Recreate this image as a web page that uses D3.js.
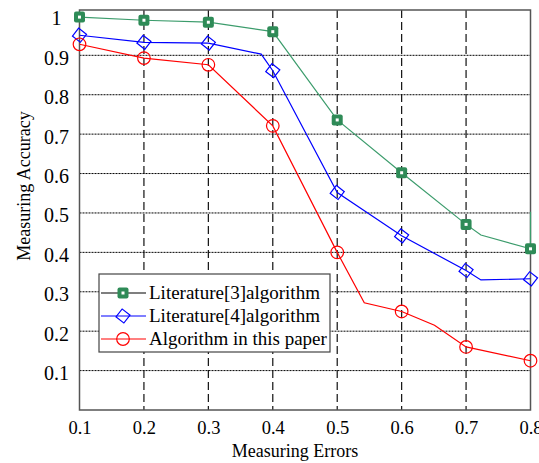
<!DOCTYPE html>
<html>
<head>
<meta charset="utf-8">
<script src="https://cdn.jsdelivr.net/npm/d3@7"></script>
<style>
  body {
    margin: 0;
    background: #fff;
  }

  svg {
    display: block;
    font-family: "Liberation Serif", "DejaVu Serif", serif;
  }

  .axis path {
    display: none;
  }
</style>
</head>
<body>
<svg id="chart" width="539" height="463"></svg>
<script>
//

const xTicks = [0.1, 0.2, 0.3, 0.4, 0.5, 0.6, 0.7, 0.8]
const yTicks = [0.1, 0.2, 0.3, 0.4, 0.5, 0.6, 0.7, 0.8, 0.9, 1]

const lit3X = [0.1, 0.2, 0.3, 0.4, 0.5, 0.6, 0.7, 0.723, 0.8, 0.8]
const lit3Y = [0.997, 0.989, 0.984, 0.960, 0.736, 0.602, 0.471, 0.444, 0.409, 0.503]

const lit4X = [0.1, 0.2, 0.3, 0.382, 0.4, 0.5, 0.6, 0.7, 0.723, 0.8]
const lit4Y = [0.951, 0.933, 0.931, 0.903, 0.861, 0.552, 0.442, 0.354, 0.330, 0.333]

const oursX = [0.1, 0.2, 0.3, 0.4, 0.5, 0.542, 0.6, 0.651, 0.7, 0.8]
const oursY = [0.928, 0.893, 0.876, 0.721, 0.400, 0.272, 0.250, 0.215, 0.160, 0.125]

const seriesNames = ['Literature[3]algorithm', 'Literature[4]algorithm', 'Algorithm in this paper']

//

const margin = { top: 10, right: 8.5, bottom: 53, left: 79.5 }
const svg = d3.select('#chart')
const width = +svg.attr('width') - margin.left - margin.right
const height = +svg.attr('height') - margin.top - margin.bottom
const serif = '"Liberation Serif", "Times New Roman", serif'

const x = d3.scaleLinear()
  .domain([0.1, 0.8])
  .range([0, width])

const y = d3.scaleLinear()
  .domain([0, 1.015])
  .range([height, 0])

const series = [
  { name: seriesNames[0], xs: lit3X, ys: lit3Y, line: '#3c9c6c', marker: 'square' },
  { name: seriesNames[1], xs: lit4X, ys: lit4Y, line: '#0000ff', marker: 'diamond' },
  { name: seriesNames[2], xs: oursX, ys: oursY, line: '#ff0000', marker: 'circle' }
]

const g = svg.append('g')
    .attr('transform', `translate(${margin.left},${margin.top})`)

// grid
g.append('g')
  .selectAll('line')
  .data(yTicks.filter((v) => v < 1))
  .enter()
  .append('line')
    .attr('x1', 0)
    .attr('x2', width)
    .attr('y1', (d) => y(d))
    .attr('y2', (d) => y(d))
    .attr('stroke', '#000')
    .attr('stroke-width', 1)
    .attr('stroke-dasharray', '2,1')

g.append('g')
  .selectAll('line')
  .data(xTicks.slice(1, -1))
  .enter()
  .append('line')
    .attr('x1', (d) => x(d))
    .attr('x2', (d) => x(d))
    .attr('y1', 0)
    .attr('y2', height)
    .attr('stroke', '#111')
    .attr('stroke-width', 1.2)
    .attr('stroke-dasharray', '8,4')

// axes
const xAxis = d3.axisBottom(x)
  .tickValues(xTicks)
  .tickSize(0)
  .tickPadding(11)
  .tickFormat(d3.format('.1f'))

const yAxis = d3.axisLeft(y)
  .tickValues(yTicks)
  .tickSize(0)
  .tickFormat((d) => d === 1 ? '1' : d3.format('.1f')(d))

const gX = g.append('g')
    .attr('class', 'axis axis--x')
    .attr('transform', `translate(0,${height})`)
    .call(xAxis)

const gY = g.append('g')
    .attr('class', 'axis axis--y')
    .call(yAxis)

g.selectAll('.axis')
    .attr('font-family', serif)
  .selectAll('text')
    .style('font-family', serif)
    .attr('fill', '#000')

gX.selectAll('text')
    .style('font-size', '18.5px')

gY.selectAll('text')
    .style('font-size', '20px')
    .attr('text-anchor', 'middle')
    .attr('x', -23)
    .attr('dy', '0.45em')

// frame
g.append('rect')
    .attr('width', width)
    .attr('height', height)
    .attr('fill', 'none')
    .attr('stroke', '#555')
    .attr('stroke-width', 1.5)

// lines
const line = d3.line()
  .x((d) => x(d.x))
  .y((d) => y(d.y))

function drawMarker (sel, type) {
  if (type === 'square') {
    sel.append('rect')
        .attr('x', -5.5)
        .attr('y', -5.5)
        .attr('width', 11)
        .attr('height', 11)
        .attr('rx', 2)
        .attr('fill', '#2e8b57')
    sel.append('rect')
        .attr('x', -1.5)
        .attr('y', -1.5)
        .attr('width', 3)
        .attr('height', 3)
        .attr('fill', '#fff')
  } else if (type === 'diamond') {
    sel.append('rect')
        .attr('x', -5)
        .attr('y', -5)
        .attr('width', 10)
        .attr('height', 10)
        .attr('transform', 'rotate(38)')
        .attr('fill', 'none')
        .attr('stroke', '#0000ff')
        .attr('stroke-width', 1.2)
  } else {
    sel.append('circle')
        .attr('r', 6.3)
        .attr('fill', 'none')
        .attr('stroke', '#ff0000')
        .attr('stroke-width', 1.2)
  }
}

series.forEach((s) => {
  const pts = s.xs.map((v, i) => ({ x: v, y: s.ys[i] }))
  const marked = pts.filter((p, i) =>
    xTicks.includes(p.x) && pts.findIndex((q) => q.x === p.x) === i)

  g.append('path')
      .datum(pts)
      .attr('fill', 'none')
      .attr('stroke', s.line)
      .attr('stroke-width', 1.2)
      .attr('d', line)

  g.append('g')
    .selectAll('g')
    .data(marked)
    .enter()
    .append('g')
      .attr('transform', (d) => `translate(${x(d.x)},${y(d.y)})`)
      .each(function () { drawMarker(d3.select(this), s.marker) })
})

// legend
const legend = svg.append('g')
    .attr('transform', 'translate(99,274)')

legend.append('rect')
    .attr('width', 231)
    .attr('height', 78)
    .attr('fill', '#fff')
    .attr('stroke', '#444')
    .attr('stroke-width', 1.2)

const rows = legend.selectAll('.row')
  .data(series)
  .enter()
  .append('g')
    .attr('class', 'row')
    .attr('transform', (d, i) => `translate(0,${19 + i * 23})`)

rows.append('line')
    .attr('x1', 2)
    .attr('x2', 47)
    .attr('stroke', (d, i) => i === 0 ? '#000' : d.line)
    .attr('stroke-width', 1.2)

rows.append('g')
    .attr('transform', 'translate(24,0)')
    .each(function (d) { drawMarker(d3.select(this), d.marker) })

rows.append('text')
    .attr('x', 50)
    .attr('y', 6)
    .style('font-family', serif)
    .style('font-size', '19px')
    .attr('fill', '#000')
    .text((d) => d.name)

// titles
svg.append('text')
    .attr('x', 295)
    .attr('y', 457)
    .attr('text-anchor', 'middle')
    .style('font-family', serif)
    .style('font-size', '18px')
    .text('Measuring Errors')

svg.append('text')
    .attr('transform', 'translate(30,186) rotate(-90)')
    .attr('text-anchor', 'middle')
    .style('font-family', serif)
    .style('font-size', '18px')
    .text('Measuring Accuracy')

//
</script>
</body>
</html>
